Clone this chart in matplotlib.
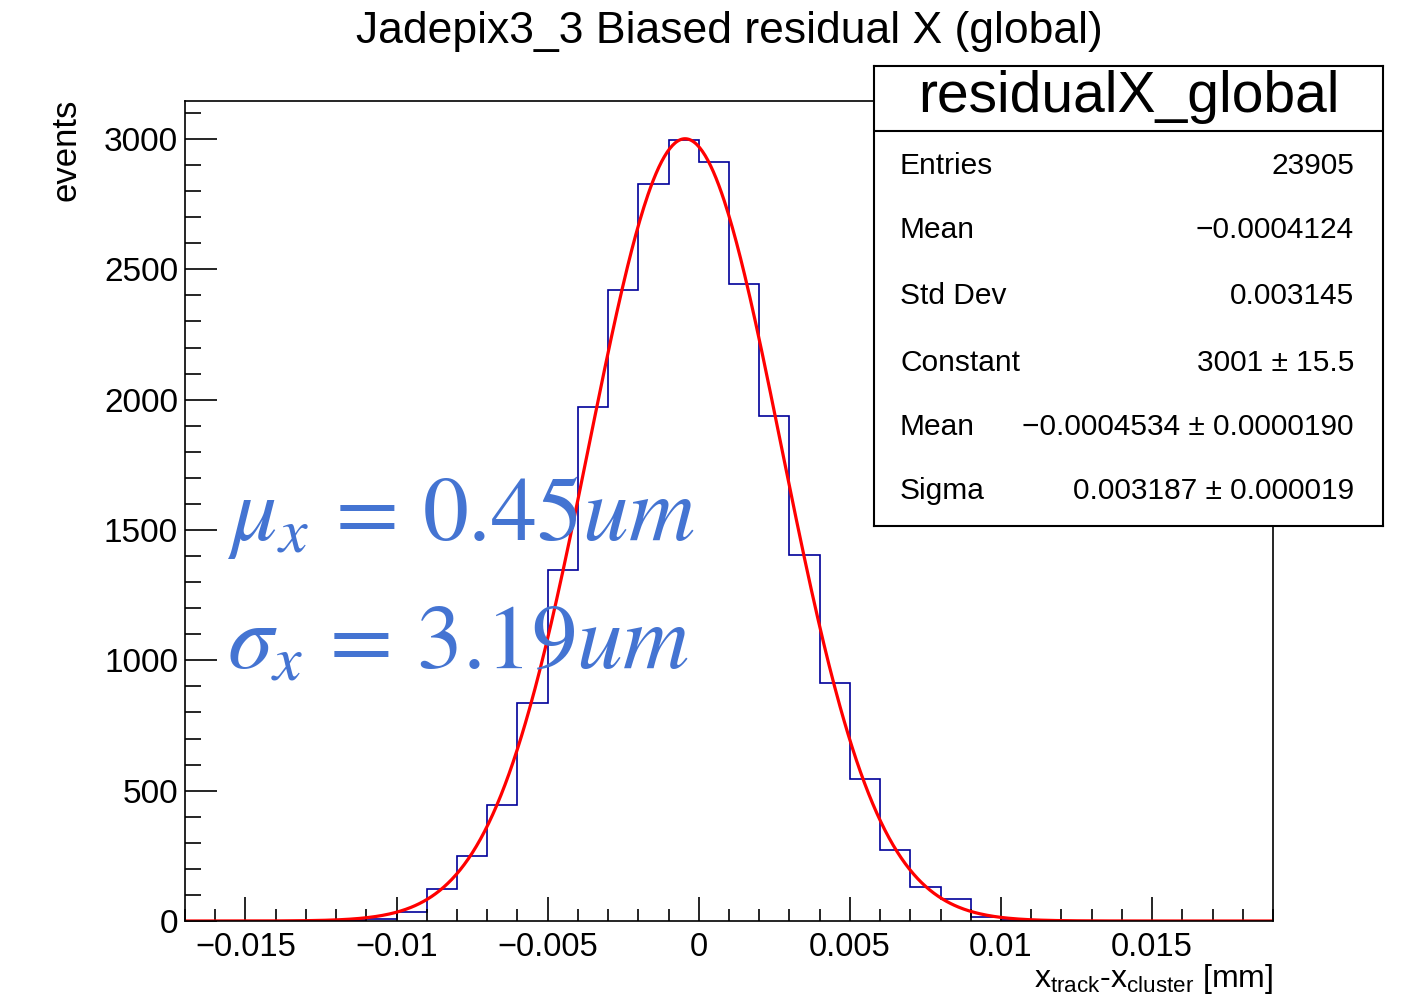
import numpy as np
import matplotlib.pyplot as plt
from matplotlib.ticker import FixedLocator, MultipleLocator

plt.rcParams['font.family'] = ['Liberation Sans', 'DejaVu Sans']
plt.rcParams['mathtext.fontset'] = 'custom'
plt.rcParams['mathtext.rm'] = 'Liberation Sans'
plt.rcParams['mathtext.it'] = 'Liberation Sans:italic'

# histogram: 36 bins of 0.001 mm from -0.017 to 0.019
bin_lo = -0.017
bin_w = 0.001
counts = [0, 0, 0, 0, 1, 2, 8, 35, 123, 250, 446, 838, 1346, 1973, 2419,
          2827, 2996, 2912, 2442, 1938, 1404, 912, 546, 273, 131, 85, 15,
          4, 1, 0, 0, 0, 0, 0, 0, 0]

# gaus fit results (from the stats box)
fit_const = 3001
fit_mean = -0.0004534
fit_sigma = 0.003187

xticks = [-0.015, -0.01, -0.005, 0, 0.005, 0.01, 0.015]
xticklabels = ['\u22120.015', '\u22120.01', '\u22120.005', '0', '0.005', '0.01', '0.015']
yticks = [0, 500, 1000, 1500, 2000, 2500, 3000]

stats_names = ['Entries', 'Mean', 'Std Dev', 'Constant', 'Mean', 'Sigma']
stats_values = ['23905', '\u22120.0004124', '0.003145', '3001 \u00b1 15.5',
                '\u22120.0004534 \u00b1 0.0000190', '0.003187 \u00b1 0.000019']

W, H = 1409, 1000
fig = plt.figure(figsize=(W / 100, H / 100), dpi=100)
ax = fig.add_axes([185 / W, 79 / H, 1088 / W, 820 / H])

edges = bin_lo + bin_w * np.arange(len(counts) + 1)
ax.stairs(counts, edges, color='#00009a', lw=1.2)

xf = np.linspace(edges[0], edges[-1], 800)
ax.plot(xf, fit_const * np.exp(-0.5 * ((xf - fit_mean) / fit_sigma) ** 2),
        color='#ff0000', lw=2.3)

ax.set_xlim(edges[0], edges[-1])
ax.set_ylim(0, 1.05 * max(counts))
ax.xaxis.set_major_locator(FixedLocator(xticks))
ax.set_xticklabels(xticklabels)
ax.xaxis.set_minor_locator(MultipleLocator(0.001))
ax.yaxis.set_major_locator(FixedLocator(yticks))
ax.yaxis.set_minor_locator(MultipleLocator(100))
ax.tick_params(axis='x', which='major', direction='in', length=17, width=1.2, labelsize=23.5, pad=8)
ax.tick_params(axis='x', which='minor', direction='in', length=8.5, width=1.2)
ax.tick_params(axis='y', which='major', direction='in', length=23, width=1.2, labelsize=24, pad=5)
ax.tick_params(axis='y', which='minor', direction='in', length=11.5, width=1.2)
for s in ax.spines.values():
    s.set_linewidth(1.2)

fig.text(729 / W, 1 - 31 / H, 'Jadepix3_3 Biased residual X (global)', fontsize=32,
         ha='center', va='center')
fig.text(66 / W, 1 - 99 / H, 'events', fontsize=25, rotation=90, ha='center', va='top')
fig.text(1273 / W, 1 - 987 / H, r'x$_{\mathrm{track}}$-x$_{\mathrm{cluster}}$ [mm]',
         fontsize=23, ha='right', va='baseline')

blue = '#4474d2'
fig.text(227 / W, 1 - 540 / H, r'$\mu_x\,=\,0.45um$', fontsize=66, color=blue,
         math_fontfamily='stix', va='baseline')
fig.text(227 / W, 1 - 668 / H, r'$\sigma_x\,=\,3.19um$', fontsize=66, color=blue,
         math_fontfamily='stix', va='baseline')

# stats box
sb = fig.add_axes([874 / W, 1 - 526 / H, (1383 - 874) / W, (526 - 66) / H])
sb.set_xticks([])
sb.set_yticks([])
for s in sb.spines.values():
    s.set_linewidth(1.5)
bh = 526 - 66
sb.axhline(1 - (131 - 66) / bh, color='black', lw=1.5)
sb.text(0.5, 1 - (97 - 66) / bh, 'residualX_global', fontsize=41, ha='center', va='center',
        transform=sb.transAxes)
row_y = [166, 230, 296, 363, 427, 491]
for name, val, ry in zip(stats_names, stats_values, row_y):
    yy = 1 - (ry - 66) / bh
    sb.text((900 - 874) / 509, yy, name, fontsize=21.5, ha='left', va='center', transform=sb.transAxes)
    sb.text((1354 - 874) / 509, yy, val, fontsize=21.5, ha='right', va='center', transform=sb.transAxes)

fig.savefig('out.png', dpi=100)
